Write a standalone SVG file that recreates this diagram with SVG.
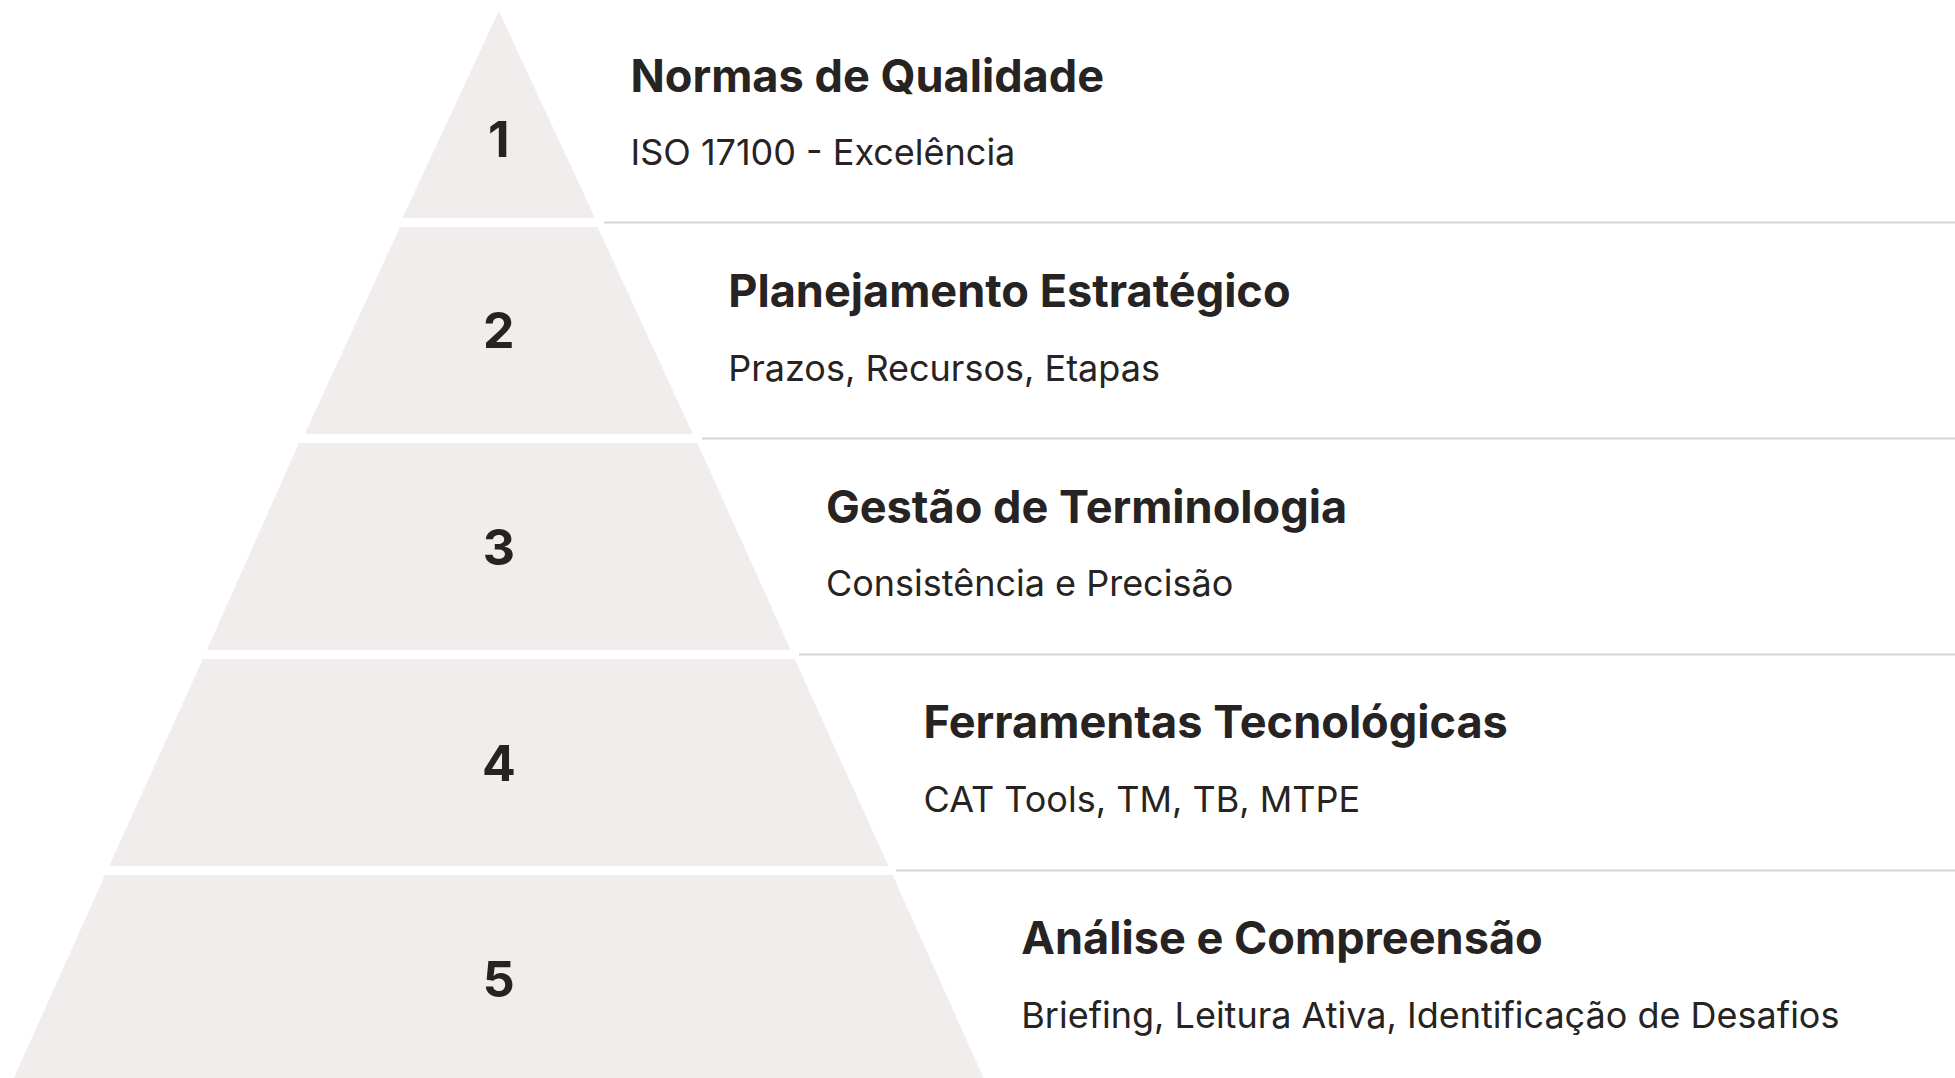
<svg xmlns="http://www.w3.org/2000/svg" width="1955" height="1078" viewBox="0 0 1955 1078">
<style>
.layer{fill:#f0edec}
.num{font-family:Inter,"Liberation Sans",sans-serif;font-weight:700;font-size:50px;fill:#262322;text-anchor:middle}
.title{font-family:Inter,"Liberation Sans",sans-serif;font-weight:700;font-size:45.1px;fill:#262322}
.sub{font-family:Inter,"Liberation Sans",sans-serif;font-weight:400;font-size:36px;fill:#262322}
.sep{stroke:#d7d3d3;stroke-width:2;fill:none}
</style>
<rect width="1955" height="1078" fill="#ffffff"/>
<g id="connectors">
<line class="sep" x1="604" y1="222.5" x2="1955" y2="222.5"/>
<line class="sep" x1="702" y1="438.5" x2="1955" y2="438.5"/>
<line class="sep" x1="799" y1="654.5" x2="1955" y2="654.5"/>
<line class="sep" x1="896" y1="870.5" x2="1955" y2="870.5"/>
</g>
<g id="layer1">
<polygon class="layer" points="498.8,11 595,218 402.6,218"/>
<text class="num" x="498.8" y="156.7">1</text>
<text class="title" x="630.5" y="91.5">Normas de Qualidade</text>
<text class="sub" x="630.5" y="165">ISO 17100 - Excelência</text>
</g>
<g id="layer2">
<polygon class="layer" points="400,227 597.6,227 692.8,434 304.8,434"/>
<text class="num" x="498.8" y="347.5">2</text>
<text class="title" x="728.2" y="307">Planejamento Estratégico</text>
<text class="sub" x="728.2" y="380.5">Prazos, Recursos, Etapas</text>
</g>
<g id="layer3">
<polygon class="layer" points="299,443 697.4,443 790.7,650 206.9,650"/>
<text class="num" x="498.8" y="564.5">3</text>
<text class="title" x="825.9" y="522.5">Gestão de Terminologia</text>
<text class="sub" x="825.9" y="596">Consistência e Precisão</text>
</g>
<g id="layer4">
<polygon class="layer" points="202.9,659 794.7,659 888.5,866 109.1,866"/>
<text class="num" x="498.8" y="780.5">4</text>
<text class="title" x="923.6" y="738">Ferramentas Tecnológicas</text>
<text class="sub" x="923.6" y="811.5">CAT Tools, TM, TB, MTPE</text>
</g>
<g id="layer5">
<polygon class="layer" points="105,875 892.6,875 984.5,1080 13,1080"/>
<text class="num" x="498.8" y="997">5</text>
<text class="title" x="1021.3" y="954">Análise e Compreensão</text>
<text class="sub" x="1021.3" y="1028">Briefing, Leitura Ativa, Identificação de Desafios</text>
</g>
</svg>
